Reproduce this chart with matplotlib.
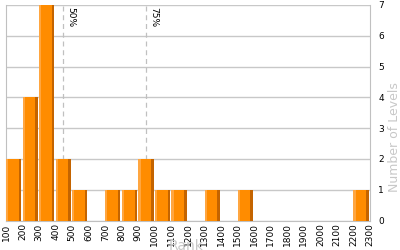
import numpy as np
import matplotlib.pyplot as plt

bin_starts = [100, 200, 300, 400, 500, 600, 700, 800, 900, 1000, 1100,
              1200, 1300, 1400, 1500, 1600, 1700, 1800, 1900, 2000, 2100, 2200]
counts = [2, 4, 7, 2, 1, 0, 1, 1, 2, 1, 1, 0, 1, 0, 1, 0, 0, 0, 0, 0, 0, 1]
percentiles = [('50%', 444), ('75%', 946)]
tick_values = list(range(100, 2400, 100))

fig = plt.figure(figsize=(4, 2.5), dpi=100)
ax = fig.add_axes([0.015, 0.118, 0.91, 0.862])

x = np.array(bin_starts)
h = np.array(counts)
w = 92
ax.bar(x, h, width=w, align='edge', color='#ff8c00', lw=0, zorder=3)
ax.bar(x, h, width=13, align='edge', color='#ffa640', lw=0, zorder=4)
ax.bar(x + w - 15, h, width=15, align='edge', color='#c46400', lw=0, zorder=4)

for name, v in percentiles:
    ax.axvline(v, color='#c0c0c0', ls=(0, (4, 3)), lw=0.9, zorder=2)
    ax.text(v + 20, 6.95, name, rotation=270, fontsize=6.5, va='top', ha='left')

ax.set_xlim(100, 2300)
ax.set_ylim(0, 7)
ax.set_xticks(tick_values)
ax.set_xticklabels([str(t) for t in tick_values], rotation=90, fontsize=6.5)
ax.yaxis.tick_right()
ax.set_yticks(range(0, 8))
ax.tick_params(axis='y', labelsize=6.5, length=0, pad=6)
ax.tick_params(axis='x', length=0, pad=2)
ax.grid(axis='y', color='#c8c8c8', lw=1, zorder=1)
for s in ['left', 'right', 'bottom']:
    ax.spines[s].set_color('#c0c0c0')
ax.spines['top'].set_visible(False)

fig.text(0.985, 0.452, 'Number of Levels', color='#c8c8c8', fontsize=9,
         rotation=90, ha='center', va='center')
fig.text(0.465, -0.01, 'Rank', color='#c8c8c8', fontsize=10, ha='center', va='bottom')

fig.savefig('out.png', dpi=100)
